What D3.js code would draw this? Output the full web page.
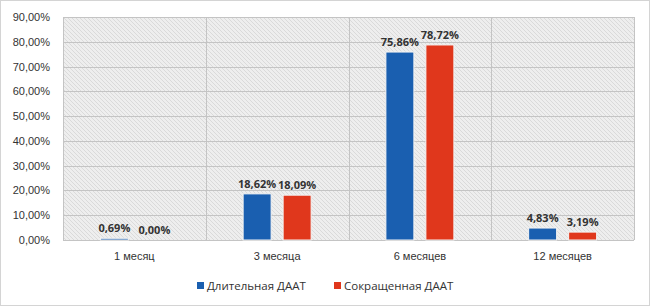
<!DOCTYPE html>
<html>
<head>
<meta charset="utf-8">
<script src="https://cdn.jsdelivr.net/npm/d3@7"></script>
<style>
  body { margin: 0; background: #fff; }
  svg { display: block; font-family: "Open Sans", "DejaVu Sans", sans-serif; }
</style>
</head>
<body>
<div id="chart"></div>
<script>
// data
var categories = ["1 месяц", "3 месяца", "6 месяцев", "12 месяцев"];
var seriesNames = ["Длительная ДААТ", "Сокращенная ДААТ"];
var longDAPT = [0.69, 18.62, 75.86, 4.83];
var shortDAPT = [0.00, 18.09, 78.72, 3.19];
var yTicks = [0, 10, 20, 30, 40, 50, 60, 70, 80, 90];
var colors = ["#1a5fb0", "#e0371c"];

var width = 650, height = 306;
var margin = {top: 17, right: 16, bottom: 66, left: 63};

var svg = d3.select("#chart")
    .append("svg")
    .attr("width", width)
    .attr("height", height);

// outer frame
svg.append("rect")
    .attr("x", 0.5).attr("y", 0.5)
    .attr("width", width - 1).attr("height", height - 1)
    .attr("fill", "#fff")
    .attr("stroke", "#d4d4d4");

var defs = svg.append("defs");
var pat = defs.append("pattern")
    .attr("id", "hatch")
    .attr("patternUnits", "userSpaceOnUse")
    .attr("width", 4).attr("height", 4);
pat.append("rect").attr("width", 4).attr("height", 4).attr("fill", "#eeeeee");
pat.append("path")
    .attr("d", "M-1,-1 L5,5 M-1,3 L1,5 M3,-1 L5,1")
    .attr("stroke", "#dadada")
    .attr("stroke-width", 1);

var plotW = width - margin.left - margin.right;
var plotH = height - margin.top - margin.bottom;

var g = svg.append("g")
    .attr("transform", "translate(" + margin.left + "," + margin.top + ")");

var x = d3.scaleBand().domain(categories).range([0, plotW]);
var xs = d3.scaleBand().domain([0, 1]).range([x.bandwidth() / 2 - 34, x.bandwidth() / 2 + 34]).paddingInner(0.3);
var y = d3.scaleLinear().domain([0, 90]).range([plotH, 0]);

g.append("rect")
    .attr("width", plotW).attr("height", plotH)
    .attr("fill", "url(#hatch)");

// grid
g.selectAll(".hgrid")
    .data(yTicks).enter()
    .append("line")
    .attr("x1", 0).attr("x2", plotW)
    .attr("y1", d => Math.round(y(d)) + 0.5)
    .attr("y2", d => Math.round(y(d)) + 0.5)
    .attr("stroke", "#c4c4c4");

g.selectAll(".vgrid")
    .data(d3.range(categories.length + 1)).enter()
    .append("line")
    .attr("x1", d => Math.round(d * x.step()) + 0.5)
    .attr("x2", d => Math.round(d * x.step()) + 0.5)
    .attr("y1", 0).attr("y2", plotH)
    .attr("stroke", "#c4c4c4");

var fmt = v => v.toFixed(2).replace(".", ",") + "%";

// y axis labels
var yAxis = g.append("g")
    .call(d3.axisLeft(y).tickValues(yTicks).tickSize(0).tickPadding(13).tickFormat(fmt));
yAxis.select(".domain").remove();
yAxis.selectAll("text")
    .attr("font-size", 11)
    .attr("fill", "#333");

// x axis labels
var xAxis = g.append("g")
    .attr("transform", "translate(0," + plotH + ")")
    .call(d3.axisBottom(x).tickSize(0).tickPadding(12));
xAxis.select(".domain").remove();
xAxis.selectAll("text")
    .attr("font-size", 11)
    .attr("fill", "#333");

var rows = categories.map((c, i) => ({cat: c, vals: [longDAPT[i], shortDAPT[i]]}));

var groups = g.selectAll(".grp")
    .data(rows).enter()
    .append("g")
    .attr("transform", d => "translate(" + x(d.cat) + ",0)");

groups.selectAll("rect")
    .data(d => d.vals.map((v, k) => ({v: v, k: k}))).enter()
    .append("rect")
    .attr("x", d => xs(d.k))
    .attr("y", d => y(d.v))
    .attr("width", xs.bandwidth())
    .attr("height", d => plotH - y(d.v))
    .attr("fill", d => colors[d.k])
    .attr("stroke", "#f4f4f4")
    .attr("stroke-width", 1);

groups.selectAll("text")
    .data(d => d.vals.map((v, k) => ({v: v, k: k}))).enter()
    .append("text")
    .attr("x", d => xs(d.k) + xs.bandwidth() / 2)
    .attr("y", d => y(d.v) - 6)
    .attr("text-anchor", "middle")
    .attr("font-size", 11)
    .attr("font-weight", "bold")
    .attr("fill", "#333")
    .text(d => fmt(d.v));

// legend
var legend = svg.append("g").attr("transform", "translate(0,286)");
var legX = [197, 334];
seriesNames.forEach(function(name, i) {
    legend.append("rect")
        .attr("x", legX[i]).attr("y", -4)
        .attr("width", 7).attr("height", 7)
        .attr("fill", colors[i]);
    legend.append("text")
        .attr("x", legX[i] + 10).attr("y", 4)
        .attr("font-size", 11.5)
        .attr("fill", "#333")
        .text(name);
});
</script>
</body>
</html>
